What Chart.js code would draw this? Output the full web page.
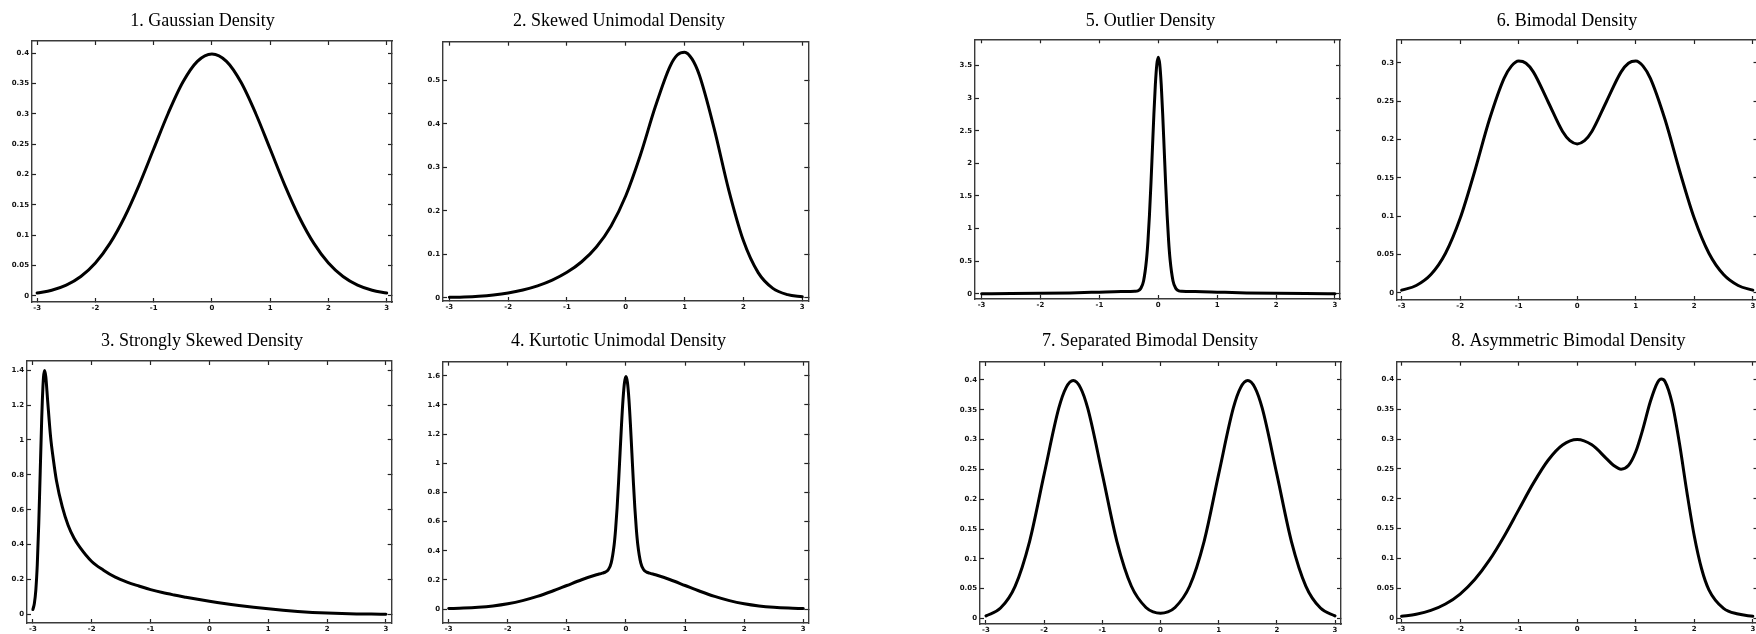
<!DOCTYPE html>
<html>
<head>
<meta charset="utf-8">
<title>Marron-Wand test densities</title>
<script src="https://cdn.jsdelivr.net/npm/chart.js@4.4.1/dist/chart.umd.min.js"></script>
<style>
  html, body { margin: 0; padding: 0; background: #fff; }
  body { width: 1756px; height: 634px; position: relative; overflow: hidden; }
  .panel { position: absolute; }
  .panel canvas { display: block; }
</style>
</head>
<body>
<script>
'use strict';

// ── data ──────────────────────────────────────────────────────────────────────

const titles = [
  '1. Gaussian Density',
  '2. Skewed Unimodal Density',
  '3. Strongly Skewed Density',
  '4. Kurtotic Unimodal Density',
  '5. Outlier Density',
  '6. Bimodal Density',
  '7. Separated Bimodal Density',
  '8. Asymmetric Bimodal Density',
];

const x1 = [-3, -2.75, -2.5, -2.25, -2, -1.75, -1.5, -1.25, -1, -0.75, -0.5, -0.25, 0,
  0.25, 0.5, 0.75, 1, 1.25, 1.5, 1.75, 2, 2.25, 2.5, 2.75, 3];
const y1 = [0.0044, 0.0091, 0.0175, 0.0317, 0.0540, 0.0863, 0.1295, 0.1826, 0.2420, 0.3011, 0.3521, 0.3867, 0.3989,
  0.3867, 0.3521, 0.3011, 0.2420, 0.1826, 0.1295, 0.0863, 0.0540, 0.0317, 0.0175, 0.0091, 0.0044];

const x2 = [-3, -2.75, -2.5, -2.25, -2, -1.75, -1.5, -1.25, -1, -0.75, -0.5, -0.25, 0,
  0.25, 0.5, 0.75, 0.875, 1, 1.125, 1.25, 1.5, 1.75, 2, 2.25, 2.5, 2.75, 3];
const y2 = [0.0009, 0.0018, 0.0035, 0.0064, 0.0109, 0.0177, 0.0272, 0.0404, 0.0583, 0.0827, 0.1167, 0.1651, 0.2345,
  0.3288, 0.4384, 0.5317, 0.5581, 0.5647, 0.5492, 0.5120, 0.3900, 0.2476, 0.1308, 0.0577, 0.0215, 0.0070, 0.0021];

const x3 = [-3, -2.975, -2.95, -2.925, -2.9, -2.875, -2.85, -2.84, -2.82, -2.8, -2.78, -2.75, -2.7, -2.65, -2.6,
  -2.5, -2.4, -2.3, -2.2, -2, -1.8, -1.6, -1.4, -1.2, -1, -0.8, -0.6, -0.4, -0.2, 0,
  0.25, 0.5, 0.75, 1, 1.25, 1.5, 1.75, 2, 2.25, 2.5, 2.75, 3];
const y3 = [0.0274, 0.0621, 0.1390, 0.2867, 0.5215, 0.8219, 1.1218, 1.2208, 1.3586, 1.3988, 1.3619, 1.2292, 1.0207, 0.8822, 0.7677,
  0.6157, 0.5096, 0.4365, 0.3837, 0.3028, 0.2528, 0.2127, 0.1843, 0.1620, 0.1417, 0.1245, 0.1105, 0.0979, 0.0858, 0.0743,
  0.0613, 0.0500, 0.0401, 0.0311, 0.0231, 0.0163, 0.0108, 0.0068, 0.0040, 0.0022, 0.0011, 0.0006];

const x4 = [-3, -2.75, -2.5, -2.25, -2, -1.75, -1.5, -1.25, -1, -0.75, -0.5, -0.4, -0.35, -0.3, -0.25, -0.2,
  -0.175, -0.15, -0.125, -0.1, -0.075, -0.05, -0.025, 0, 0.025, 0.05, 0.075, 0.1, 0.125, 0.15, 0.175,
  0.2, 0.25, 0.3, 0.35, 0.4, 0.5, 0.75, 1, 1.25, 1.5, 1.75, 2, 2.25, 2.5, 2.75, 3];
const y4 = [0.0030, 0.0061, 0.0117, 0.0212, 0.0360, 0.0576, 0.0864, 0.1218, 0.1613, 0.2008, 0.2347, 0.2458, 0.2533, 0.2692, 0.3163, 0.4407,
  0.5496, 0.6948, 0.8727, 1.0712, 1.2689, 1.4391, 1.5547, 1.5958, 1.5547, 1.4391, 1.2689, 1.0712, 0.8727, 0.6948, 0.5496,
  0.4407, 0.3163, 0.2692, 0.2533, 0.2458, 0.2347, 0.2008, 0.1613, 0.1218, 0.0864, 0.0576, 0.0360, 0.0212, 0.0117, 0.0061, 0.0030];

const x5 = [-3, -2.5, -2, -1.5, -1, -0.75, -0.5, -0.4, -0.35, -0.3, -0.25, -0.2, -0.175, -0.15, -0.125, -0.1,
  -0.075, -0.05, -0.025, 0, 0.025, 0.05, 0.075, 0.1, 0.125, 0.15, 0.175, 0.2, 0.25, 0.3, 0.35, 0.4,
  0.5, 0.75, 1, 1.5, 2, 2.5, 3];
const y5 = [0.0004, 0.0018, 0.0054, 0.0130, 0.0242, 0.0301, 0.0352, 0.0380, 0.0454, 0.0780, 0.1963, 0.5250, 0.8159, 1.2053, 1.6834, 2.2175,
  2.7499, 3.2084, 3.5198, 3.6304, 3.5198, 3.2084, 2.7499, 2.2175, 1.6834, 1.2053, 0.8159, 0.5250, 0.1963, 0.0780, 0.0454, 0.0380,
  0.0352, 0.0301, 0.0242, 0.0130, 0.0054, 0.0018, 0.0004];

const x6 = [-3, -2.75, -2.5, -2.25, -2, -1.75, -1.5, -1.25, -1.125, -1, -0.875, -0.75, -0.5, -0.25, -0.125, 0,
  0.125, 0.25, 0.5, 0.75, 0.875, 1, 1.125, 1.25, 1.5, 1.75, 2, 2.25, 2.5, 2.75, 3];
const y6 = [0.0033, 0.0095, 0.0238, 0.0516, 0.0972, 0.1590, 0.2261, 0.2799, 0.2959, 0.3025, 0.2997, 0.2884, 0.2497, 0.2105, 0.1985, 0.1943,
  0.1985, 0.2105, 0.2497, 0.2884, 0.2997, 0.3025, 0.2959, 0.2799, 0.2261, 0.1590, 0.0972, 0.0516, 0.0238, 0.0095, 0.0033];

const x7 = [-3, -2.75, -2.5, -2.25, -2, -1.75, -1.625, -1.5, -1.375, -1.25, -1, -0.75, -0.5, -0.25, -0.125, 0,
  0.125, 0.25, 0.5, 0.75, 1, 1.25, 1.375, 1.5, 1.625, 1.75, 2, 2.25, 2.5, 2.75, 3];
const y7 = [0.0044, 0.0175, 0.0540, 0.1295, 0.2420, 0.3521, 0.3867, 0.3989, 0.3867, 0.3521, 0.2420, 0.1295, 0.0541, 0.0184, 0.0111, 0.0089,
  0.0111, 0.0184, 0.0541, 0.1295, 0.2420, 0.3521, 0.3867, 0.3989, 0.3867, 0.3521, 0.2420, 0.1295, 0.0540, 0.0175, 0.0044];

const x8 = [-3, -2.75, -2.5, -2.25, -2, -1.75, -1.5, -1.25, -1, -0.75, -0.5, -0.25, 0, 0.25, 0.5, 0.625, 0.75, 0.875,
  1, 1.125, 1.25, 1.375, 1.4375, 1.5, 1.625, 1.75, 1.875, 2, 2.125, 2.25, 2.5, 2.75, 3];
const y8 = [0.0033, 0.0068, 0.0131, 0.0238, 0.0405, 0.0648, 0.0972, 0.1370, 0.1815, 0.2258, 0.2641, 0.2900, 0.2992, 0.2903, 0.2674, 0.2557, 0.2496, 0.2556,
  0.2787, 0.3178, 0.3629, 0.3952, 0.4005, 0.3964, 0.3588, 0.2907, 0.2105, 0.1377, 0.0829, 0.0476, 0.0165, 0.0071, 0.0033];

// axis limits [xmin, xmax, ymin, ymax] and y tick step per panel
const xLims = [[-3.088, 3.091], [-3.107, 3.102], [-3.10, 3.097], [-3.096, 3.085],
               [-3.112, 3.085], [-3.079, 3.08], [-3.103, 3.103], [-3.078, 3.08]];
const yLims = [[-0.0104, 0.4203], [-0.0076, 0.5888], [-0.05, 1.453], [-0.096, 1.697],
               [-0.081, 3.905], [-0.0095, 0.33], [-0.0092, 0.430], [-0.0079, 0.4295]];
const ySteps = [0.05, 0.1, 0.2, 0.2, 0.5, 0.05, 0.05, 0.05];
const xStep = 1;

// ── layout: plot frame [left, top, right, bottom] and title centre, page px ──

const frames = [
  [32.3, 41, 392, 301.7], [443.3, 41.7, 808.3, 301], [26.7, 361, 391.7, 623.3], [443.3, 361.7, 808.3, 622.7],
  [975, 39.3, 1340, 299], [1397.3, 40, 1757.5, 300], [980, 362, 1341, 624], [1396.7, 361.7, 1757.5, 623.3],
];
const titlePos = [
  [202.5, 20.7], [619.2, 20.7], [202.2, 340.7], [618.3, 340.7],
  [1150.5, 20.7], [1567.2, 20.7], [1150, 340.7], [1568.3, 340.7],
];

const YW = 30;          // left axis width
const XH = 16;          // bottom axis height
const T_SIZE = 18;
const T_LH = 1.2;
const T_PAD = 4;

const tickFont = { family: 'DejaVu Sans', size: 7, weight: 'bold' };

function fmtTick(v) {
  return String(Math.round(v * 1000) / 1000);
}

function axis(position, min, max, step, showLabels, fitSize) {
  const horiz = position === 'top' || position === 'bottom';
  return {
    type: 'linear',
    position,
    min, max,
    border: { display: true, color: '#3a3a3a', width: 1.4 },
    grid: { drawOnChartArea: false, drawTicks: true, tickLength: -4, tickColor: '#222', tickWidth: 1.2 },
    ticks: {
      display: showLabels,
      stepSize: step,
      includeBounds: false,
      autoSkip: false,
      maxRotation: 0,
      font: tickFont,
      color: '#111',
      padding: horiz ? 5.5 : 7,
      callback: fmtTick,
    },
    afterFit: s => { if (horiz) s.height = fitSize; else s.width = fitSize; },
  };
}

// ── render ────────────────────────────────────────────────────────────────────

const xsAll = [x1, x2, x3, x4, x5, x6, x7, x8];
const ysAll = [y1, y2, y3, y4, y5, y6, y7, y8];

function makePanel(i) {
  const [L, T, R, B] = frames[i];
  const [tx, ty] = titlePos[i];
  const left = Math.round(L - YW);
  const top = Math.round(ty - T_SIZE * T_LH / 2 - T_PAD);
  const width = Math.round(2 * (tx - left));
  const height = Math.round(B + XH - top);
  const rightW = left + width - R;
  const padBottom = T - top - T_PAD - T_SIZE * T_LH;

  const wrap = document.createElement('div');
  wrap.className = 'panel';
  wrap.style.left = left + 'px';
  wrap.style.top = top + 'px';
  const canvas = document.createElement('canvas');
  canvas.width = width;
  canvas.height = height;
  canvas.style.width = width + 'px';
  canvas.style.height = height + 'px';
  wrap.appendChild(canvas);
  document.body.appendChild(wrap);

  const xs = xsAll[i], ys = ysAll[i];
  const [xmin, xmax] = xLims[i];
  const [ymin, ymax] = yLims[i];

  new Chart(canvas, {
    type: 'line',
    data: {
      datasets: [{
        data: xs.map((x, k) => ({ x, y: ys[k] })),
        borderColor: '#000',
        borderWidth: 3,
        borderCapStyle: 'round',
        borderJoinStyle: 'round',
        pointRadius: 0,
        cubicInterpolationMode: 'monotone',
        fill: false,
      }],
    },
    options: {
      responsive: false,
      devicePixelRatio: 1,
      animation: false,
      events: [],
      layout: { padding: 0 },
      plugins: {
        legend: { display: false },
        tooltip: { enabled: false },
        title: {
          display: true,
          text: titles[i],
          color: '#000',
          font: { family: 'Liberation Serif', size: T_SIZE, weight: 'normal', lineHeight: T_LH },
          padding: { top: T_PAD, bottom: padBottom },
        },
      },
      scales: {
        x: axis('bottom', xmin, xmax, xStep, true, XH),
        x2: axis('top', xmin, xmax, xStep, false, 0),
        y: axis('left', ymin, ymax, ySteps[i], true, YW),
        y2: axis('right', ymin, ymax, ySteps[i], false, rightW),
      },
    },
  });
}

for (let i = 0; i < 8; i++) makePanel(i);
</script>
</body>
</html>
